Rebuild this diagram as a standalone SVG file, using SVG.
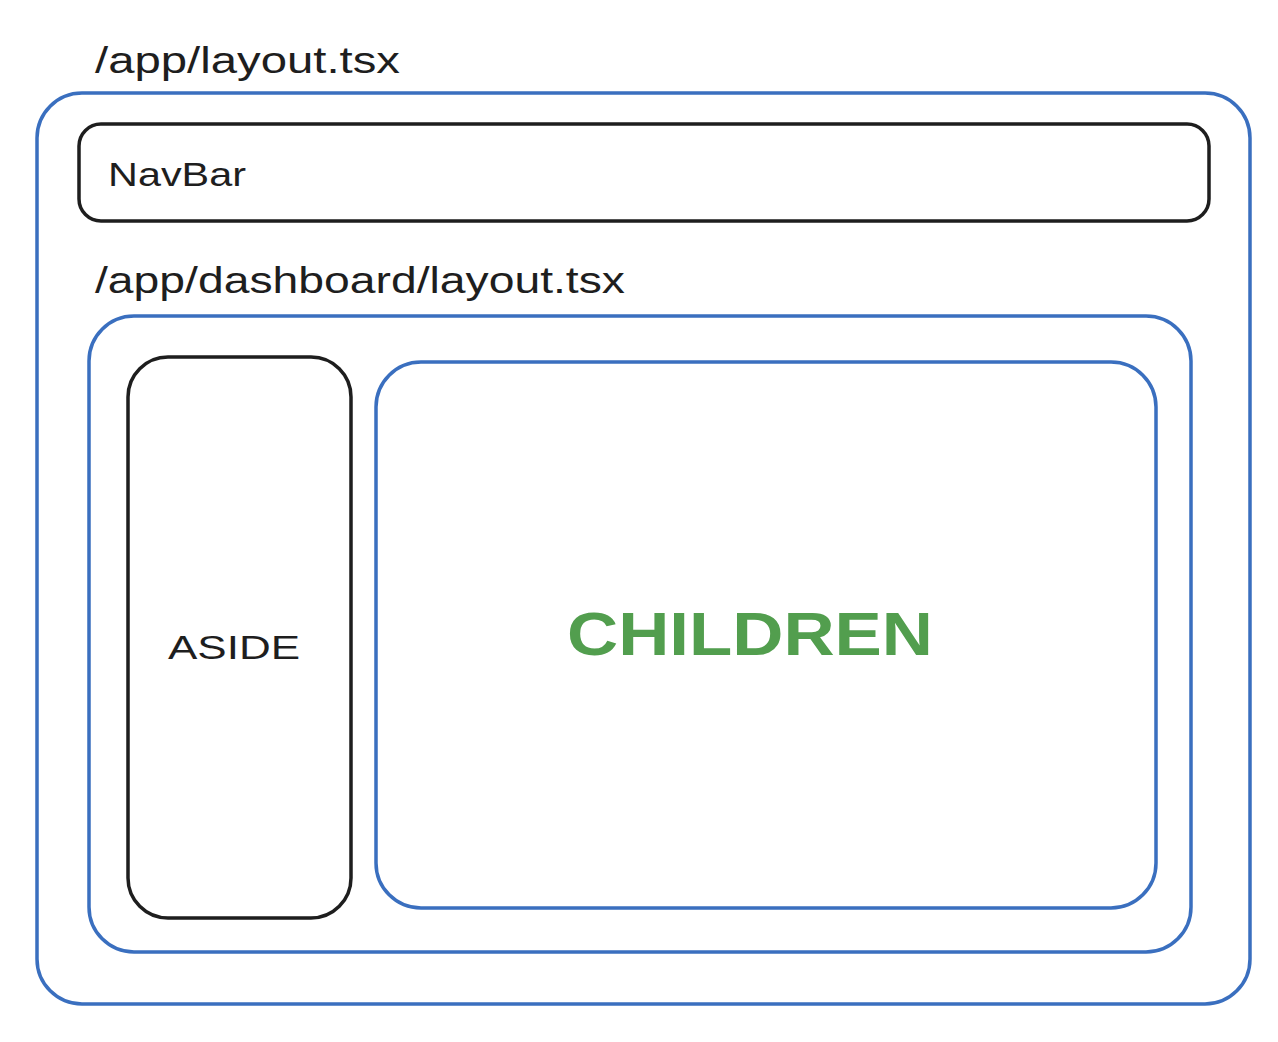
<svg xmlns="http://www.w3.org/2000/svg" width="1278" height="1042" viewBox="0 0 1278 1042">
<style>
.blue{fill:none;stroke:#3a6fbf;stroke-width:3.5}
.black{fill:none;stroke:#1e1e1e;stroke-width:3.5}
.lbl{font-family:"Liberation Sans",Arial,sans-serif;fill:#1e1e1e}
</style>
<rect width="1278" height="1042" fill="#ffffff"/>
<g id="app-layout">
<text class="lbl" x="95" y="73" font-size="36" textLength="305" lengthAdjust="spacingAndGlyphs">/app/layout.tsx</text>
<rect class="blue" x="37" y="93" width="1213" height="911" rx="45"/>
</g>
<g id="navbar">
<rect class="black" x="79" y="124" width="1130" height="97" rx="22"/>
<text class="lbl" x="108" y="186" font-size="34" textLength="138" lengthAdjust="spacingAndGlyphs">NavBar</text>
</g>
<g id="dashboard-layout">
<text class="lbl" x="95" y="293" font-size="36" textLength="530" lengthAdjust="spacingAndGlyphs">/app/dashboard/layout.tsx</text>
<rect class="blue" x="89" y="316" width="1102" height="636" rx="45"/>
</g>
<g id="aside">
<rect class="black" x="128" y="357" width="223" height="561" rx="40"/>
<text class="lbl" x="234" y="659" font-size="34" text-anchor="middle" textLength="132" lengthAdjust="spacingAndGlyphs">ASIDE</text>
</g>
<g id="children">
<rect class="blue" x="376" y="362" width="780" height="546" rx="45"/>
<text x="750" y="655" font-family="'Liberation Sans',Arial,sans-serif" font-size="62" font-weight="bold" fill="#529e4e" text-anchor="middle" textLength="366" lengthAdjust="spacingAndGlyphs">CHILDREN</text>
</g>
<g id="connectors"></g>
</svg>
